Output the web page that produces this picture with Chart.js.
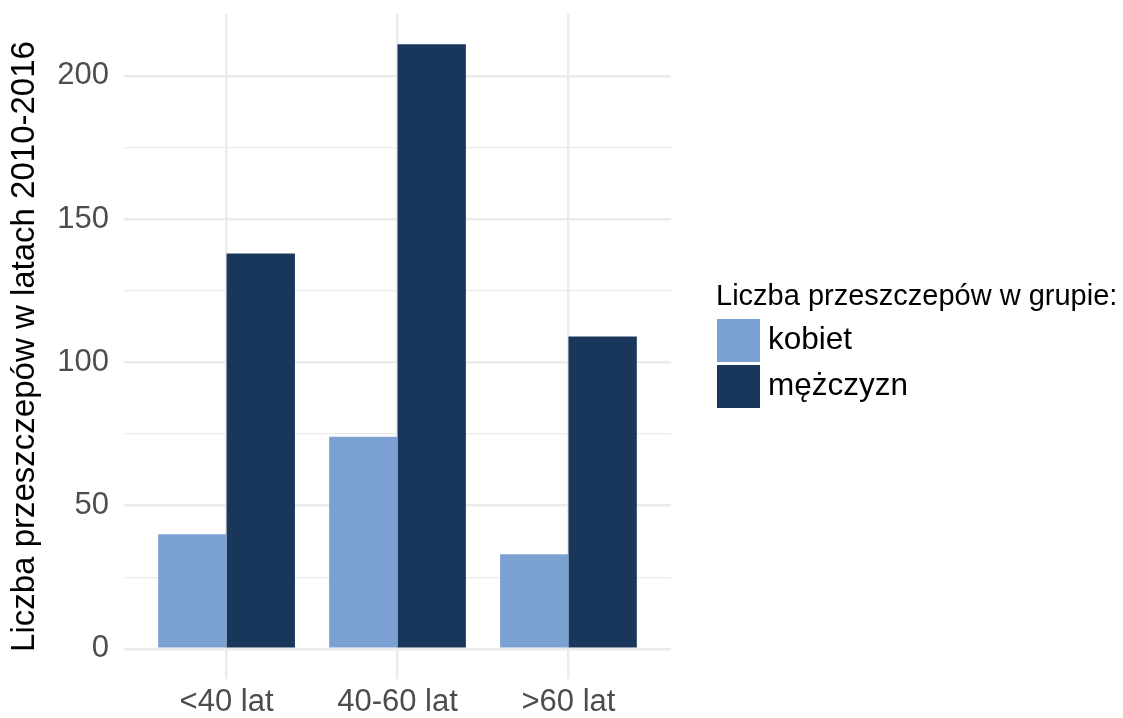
<!DOCTYPE html>
<html lang="pl">
<head>
<meta charset="utf-8">
<title>Liczba przeszczepów w latach 2010-2016</title>
<script src="https://cdn.jsdelivr.net/npm/chart.js@4.4.1/dist/chart.umd.min.js"></script>
<style>
  html, body { margin: 0; padding: 0; background: #fff; }
  #wrap { width: 1123px; height: 718px; }
</style>
</head>
<body>
<div id="wrap"><canvas id="chart" width="1123" height="718"></canvas></div>
<script>
// grupy wiekowe i liczby przeszczepów
const groups = ['<40 lat', '40-60 lat', '>60 lat'];
const seriesNames = ['kobiet', 'mężczyzn'];
const kobiet = [40, 74, 33];
const mezczyzn = [138, 211, 109];
const yMajor = [0, 50, 100, 150, 200];
const yMinor = [25, 75, 125, 175];
const seriesColors = ['#7BA1D3', '#18375A'];

const FONT = '"Liberation Sans", Arial, Helvetica, sans-serif';
const GRID = '#EBEBEB';

// legenda rysowana ręcznie po prawej stronie
const sideLegend = {
  id: 'sideLegend',
  afterDraw(chart) {
    const ctx = chart.ctx;
    ctx.save();
    ctx.fillStyle = '#000';
    ctx.font = '29px ' + FONT;
    ctx.textAlign = 'left';
    ctx.textBaseline = 'alphabetic';
    ctx.fillText('Liczba przeszczepów w grupie:', 716, 305);
    chart.data.datasets.forEach((ds, i) => {
      const y = 319 + i * 46;
      ctx.fillStyle = ds.backgroundColor;
      ctx.fillRect(717, y, 43, 43);
      ctx.fillStyle = '#000';
      ctx.font = '31.5px ' + FONT;
      ctx.textBaseline = 'middle';
      ctx.fillText(ds.label, 768, y + 21.5);
    });
    ctx.restore();
  }
};

const toPoints = arr => arr.map((v, i) => ({ x: i + 1, y: v }));

// bez dodatkowego marginesu na etykiety skrajnych ticków
const noEdgePadding = s => {
  s.paddingTop = 0; s.paddingBottom = 0;
  s.paddingLeft = 0; s.paddingRight = 0;
};

new Chart(document.getElementById('chart'), {
  type: 'bar',
  data: {
    datasets: [
      { label: seriesNames[0], data: toPoints(kobiet), backgroundColor: seriesColors[0] },
      { label: seriesNames[1], data: toPoints(mezczyzn), backgroundColor: seriesColors[1] }
    ]
  },
  options: {
    responsive: false,
    animation: false,
    devicePixelRatio: 1,
    layout: { padding: { left: 0, top: 14, right: 1123 - 671, bottom: 0 } },
    datasets: {
      bar: { categoryPercentage: 0.8, barPercentage: 1, borderWidth: 0 }
    },
    plugins: {
      legend: { display: false },
      tooltip: { enabled: false }
    },
    scales: {
      x: {
        type: 'linear',
        min: 0.4,
        max: 3.6,
        offset: false,
        afterBuildTicks: s => { s.ticks = groups.map((g, i) => ({ value: i + 1 })); },
        afterFit: s => { s.height = 39; noEdgePadding(s); },
        grid: { offset: false, color: GRID, lineWidth: 2.4, drawTicks: false },
        border: { display: false },
        ticks: {
          padding: 5,
          color: '#4D4D4D',
          font: { family: FONT, size: 31 },
          callback: v => groups[v - 1] ?? ''
        }
      },
      y: {
        min: -10.55,
        max: 221.55,
        afterBuildTicks: s => {
          s.ticks = yMajor.concat(yMinor).sort((a, b) => a - b).map(v => ({ value: v }));
        },
        afterFit: s => { s.width = 124; noEdgePadding(s); },
        grid: {
          color: GRID,
          lineWidth: c => (yMajor.includes(c.tick.value) ? 2.4 : 1.2),
          drawTicks: false
        },
        border: { display: false },
        ticks: {
          padding: 15,
          color: '#4D4D4D',
          font: { family: FONT, size: 31 },
          callback: v => (yMajor.includes(v) ? String(v) : '')
        },
        title: {
          display: true,
          text: 'Liczba przeszczepów w latach 2010-2016',
          color: '#000',
          font: { family: FONT, size: 33 },
          padding: { top: 5, bottom: 0 }
        }
      }
    }
  },
  plugins: [sideLegend]
});
</script>
</body>
</html>
